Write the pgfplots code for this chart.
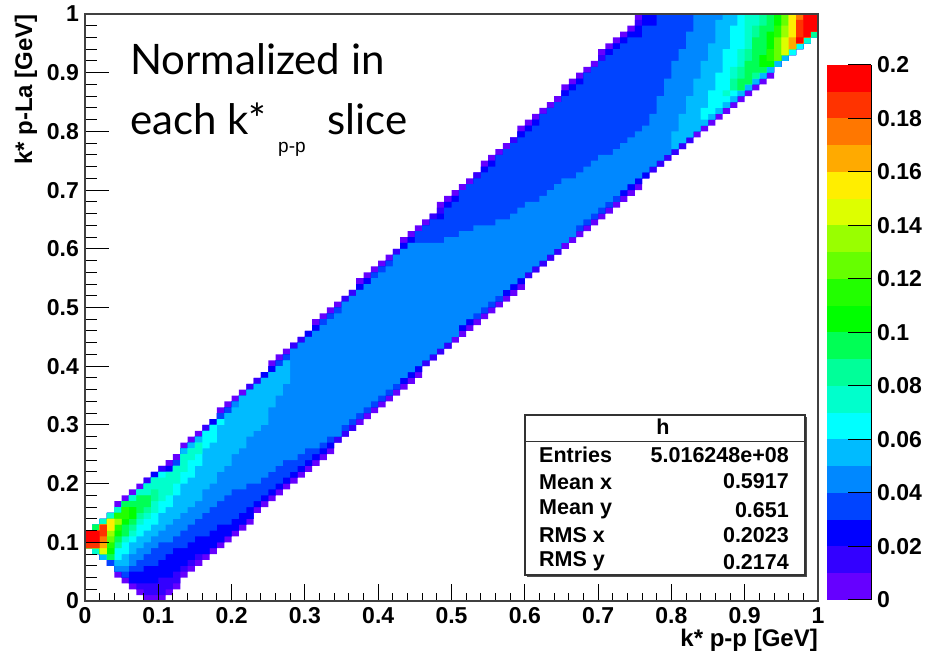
\documentclass[border=0pt]{standalone}
\usepackage{fontspec}
\setmainfont{Liberation Sans}
\newfontfamily\comic{Lato}
\usepackage{pgfplots}
\usepackage{pgfplotstable}
\pgfplotsset{compat=1.18}
\definecolor{c0}{HTML}{6600FF}\definecolor{c1}{HTML}{3300FF}\definecolor{c2}{HTML}{0000FF}\definecolor{c3}{HTML}{0044FF}
\definecolor{c4}{HTML}{0088FF}\definecolor{c5}{HTML}{00BBFF}\definecolor{c6}{HTML}{00FFFF}\definecolor{c7}{HTML}{00FFCC}
\definecolor{c8}{HTML}{00FF99}\definecolor{c9}{HTML}{00FF55}\definecolor{c10}{HTML}{00FF00}\definecolor{c11}{HTML}{22FF00}
\definecolor{c12}{HTML}{66FF00}\definecolor{c13}{HTML}{99FF00}\definecolor{c14}{HTML}{DDFF00}\definecolor{c15}{HTML}{FFEE00}
\definecolor{c16}{HTML}{FFAA00}\definecolor{c17}{HTML}{FF7700}\definecolor{c18}{HTML}{FF3300}\definecolor{c19}{HTML}{FF0000}
\pgfplotstableread{
x T0 T1 T2 T3 T4 B0 B1 B2 B3 B4
0.00 0.12 0.12 0.12 0.12 0.12 0.09 0.09 0.09 0.09 0.09
0.01 0.13 0.13 0.13 0.13 0.13 0.08 0.08 0.08 0.08 0.08
0.02 0.14 0.14 0.14 0.14 0.14 0.07 0.07 0.07 0.07 0.07
0.03 0.15 0.15 0.15 0.15 0.15 0.06 0.06 0.06 0.06 0.07
0.04 0.17 0.16 0.16 0.16 0.16 0.04 0.05 0.05 0.05 0.05
0.05 0.18 0.17 0.17 0.17 0.17 0.03 0.04 0.04 0.04 0.05
0.06 0.19 0.18 0.18 0.18 0.18 0.02 0.03 0.03 0.05 0.06
0.07 0.20 0.19 0.19 0.19 0.19 0.01 0.02 0.03 0.05 0.07
0.08 0.21 0.21 0.20 0.20 0.20 0.00 0.01 0.03 0.06 0.08
0.09 0.22 0.22 0.22 0.21 0.21 0.00 0.01 0.03 0.06 0.09
0.10 0.23 0.23 0.22 0.22 0.22 0.00 0.01 0.04 0.07 0.10
0.11 0.24 0.23 0.23 0.22 0.22 0.01 0.02 0.04 0.08 0.10
0.12 0.25 0.24 0.24 0.24 0.23 0.02 0.03 0.05 0.09 0.11
0.13 0.27 0.26 0.26 0.26 0.26 0.04 0.05 0.06 0.09 0.12
0.14 0.28 0.27 0.27 0.27 0.27 0.05 0.06 0.07 0.10 0.13
0.15 0.29 0.28 0.28 0.28 0.28 0.06 0.07 0.08 0.11 0.14
0.16 0.30 0.30 0.29 0.29 0.29 0.07 0.08 0.08 0.11 0.15
0.17 0.31 0.31 0.31 0.30 0.30 0.08 0.09 0.09 0.12 0.16
0.18 0.33 0.32 0.32 0.32 0.31 0.09 0.10 0.10 0.13 0.17
0.19 0.34 0.33 0.33 0.33 0.32 0.10 0.11 0.11 0.13 0.18
0.20 0.35 0.34 0.34 0.34 0.34 0.11 0.12 0.12 0.14 0.19
0.21 0.36 0.35 0.35 0.35 0.35 0.12 0.13 0.13 0.15 0.19
0.22 0.37 0.37 0.36 0.36 0.36 0.13 0.14 0.14 0.16 0.20
0.23 0.38 0.38 0.37 0.37 0.37 0.15 0.16 0.16 0.17 0.20
0.24 0.39 0.39 0.39 0.38 0.38 0.16 0.17 0.17 0.18 0.21
0.25 0.41 0.40 0.40 0.39 0.39 0.17 0.18 0.18 0.19 0.22
0.26 0.42 0.41 0.41 0.41 0.40 0.18 0.19 0.19 0.20 0.23
0.27 0.43 0.42 0.42 0.42 0.41 0.19 0.20 0.20 0.21 0.24
0.28 0.44 0.44 0.43 0.43 0.43 0.20 0.21 0.21 0.22 0.24
0.29 0.45 0.45 0.44 0.44 0.44 0.21 0.22 0.22 0.23 0.25
0.30 0.46 0.46 0.46 0.45 0.45 0.22 0.23 0.23 0.24 0.26
0.31 0.48 0.47 0.47 0.46 0.46 0.23 0.24 0.24 0.25 0.26
0.32 0.49 0.48 0.48 0.48 0.47 0.24 0.25 0.25 0.26 0.27
0.33 0.50 0.49 0.49 0.49 0.48 0.25 0.26 0.26 0.27 0.28
0.34 0.51 0.50 0.50 0.50 0.49 0.27 0.27 0.28 0.28 0.28
0.35 0.52 0.52 0.51 0.51 0.51 0.28 0.28 0.29 0.29 0.30
0.36 0.53 0.53 0.52 0.52 0.52 0.29 0.29 0.30 0.30 0.31
0.37 0.55 0.54 0.54 0.53 0.53 0.30 0.31 0.31 0.31 0.32
0.38 0.56 0.55 0.55 0.54 0.54 0.31 0.32 0.32 0.32 0.33
0.39 0.57 0.56 0.56 0.56 0.55 0.32 0.33 0.33 0.33 0.34
0.40 0.58 0.57 0.57 0.57 0.56 0.33 0.34 0.34 0.34 0.35
0.41 0.59 0.58 0.58 0.58 0.57 0.34 0.35 0.35 0.35 0.36
0.42 0.60 0.60 0.59 0.59 0.59 0.35 0.36 0.36 0.36 0.37
0.43 0.62 0.61 0.61 0.60 0.60 0.36 0.37 0.37 0.38 0.38
0.44 0.63 0.62 0.62 0.61 0.61 0.37 0.38 0.38 0.39 0.39
0.45 0.64 0.63 0.63 0.63 0.61 0.38 0.39 0.39 0.40 0.40
0.46 0.65 0.64 0.64 0.64 0.61 0.40 0.40 0.41 0.41 0.41
0.47 0.66 0.66 0.65 0.65 0.61 0.41 0.41 0.42 0.42 0.42
0.48 0.68 0.67 0.66 0.65 0.61 0.42 0.42 0.43 0.43 0.43
0.49 0.69 0.68 0.68 0.67 0.62 0.43 0.43 0.44 0.44 0.44
0.50 0.70 0.69 0.69 0.68 0.62 0.44 0.45 0.45 0.45 0.45
0.51 0.71 0.70 0.70 0.70 0.63 0.45 0.46 0.46 0.47 0.47
0.52 0.72 0.71 0.71 0.71 0.63 0.46 0.47 0.47 0.48 0.48
0.53 0.73 0.73 0.72 0.72 0.64 0.47 0.48 0.48 0.48 0.49
0.54 0.75 0.74 0.74 0.73 0.64 0.48 0.49 0.49 0.49 0.50
0.55 0.76 0.75 0.75 0.74 0.64 0.49 0.50 0.50 0.50 0.51
0.56 0.77 0.76 0.76 0.76 0.65 0.50 0.51 0.51 0.51 0.52
0.57 0.78 0.77 0.77 0.77 0.65 0.51 0.52 0.52 0.53 0.53
0.58 0.79 0.79 0.78 0.78 0.66 0.52 0.53 0.53 0.54 0.54
0.59 0.81 0.80 0.80 0.79 0.67 0.53 0.54 0.54 0.55 0.55
0.60 0.82 0.81 0.81 0.80 0.68 0.55 0.55 0.56 0.56 0.56
0.61 0.83 0.82 0.82 0.81 0.68 0.56 0.56 0.57 0.57 0.57
0.62 0.84 0.83 0.83 0.83 0.69 0.57 0.57 0.58 0.58 0.58
0.63 0.85 0.84 0.84 0.84 0.70 0.58 0.58 0.59 0.59 0.59
0.64 0.86 0.85 0.85 0.85 0.71 0.59 0.59 0.60 0.60 0.60
0.65 0.88 0.87 0.87 0.86 0.72 0.60 0.61 0.61 0.61 0.61
0.66 0.89 0.88 0.88 0.87 0.72 0.61 0.62 0.62 0.62 0.62
0.67 0.90 0.89 0.89 0.88 0.73 0.62 0.63 0.63 0.63 0.64
0.68 0.91 0.90 0.90 0.90 0.74 0.63 0.64 0.64 0.64 0.65
0.69 0.92 0.91 0.91 0.91 0.75 0.64 0.65 0.65 0.65 0.66
0.70 0.94 0.93 0.92 0.92 0.76 0.65 0.66 0.66 0.66 0.67
0.71 0.95 0.94 0.94 0.93 0.76 0.66 0.67 0.67 0.67 0.68
0.72 0.96 0.95 0.95 0.94 0.77 0.67 0.68 0.68 0.68 0.69
0.73 0.97 0.96 0.96 0.95 0.78 0.68 0.69 0.69 0.70 0.70
0.74 0.98 0.97 0.97 0.96 0.79 0.69 0.70 0.70 0.71 0.71
0.75 1.00 0.99 0.98 0.96 0.80 0.70 0.71 0.71 0.72 0.72
0.76 1.00 1.00 1.00 0.98 0.81 0.72 0.72 0.72 0.73 0.73
0.77 1.00 1.00 1.00 0.98 0.83 0.73 0.73 0.74 0.74 0.74
0.78 1.00 1.00 1.00 1.00 0.86 0.74 0.74 0.75 0.75 0.75
0.79 1.00 1.00 1.00 1.00 0.89 0.75 0.75 0.76 0.76 0.76
0.80 1.00 1.00 1.00 1.00 0.92 0.76 0.76 0.77 0.77 0.77
0.81 1.00 1.00 1.00 1.00 0.94 0.77 0.77 0.78 0.78 0.78
0.82 1.00 1.00 1.00 1.00 0.97 0.78 0.78 0.79 0.79 0.79
0.83 1.00 1.00 1.00 1.00 1.00 0.79 0.80 0.80 0.80 0.80
0.84 1.00 1.00 1.00 1.00 1.00 0.80 0.81 0.81 0.81 0.81
0.85 1.00 1.00 1.00 1.00 1.00 0.81 0.82 0.82 0.82 0.82
0.86 1.00 1.00 1.00 1.00 1.00 0.82 0.83 0.83 0.83 0.83
0.87 1.00 1.00 1.00 1.00 1.00 0.83 0.84 0.84 0.84 0.84
0.88 1.00 1.00 1.00 1.00 1.00 0.84 0.85 0.85 0.85 0.85
0.89 1.00 1.00 1.00 1.00 1.00 0.85 0.86 0.86 0.86 0.86
0.90 1.00 1.00 1.00 1.00 1.00 0.86 0.87 0.87 0.87 0.87
0.91 1.00 1.00 1.00 1.00 1.00 0.87 0.88 0.88 0.88 0.88
0.92 1.00 1.00 1.00 1.00 1.00 0.88 0.89 0.89 0.89 0.89
0.93 1.00 1.00 1.00 1.00 1.00 0.89 0.90 0.90 0.90 0.90
0.94 1.00 1.00 1.00 1.00 1.00 0.91 0.91 0.91 0.91 0.91
0.95 1.00 1.00 1.00 1.00 1.00 0.92 0.92 0.92 0.92 0.92
0.96 1.00 1.00 1.00 1.00 1.00 0.93 0.93 0.93 0.93 0.93
0.97 1.00 1.00 1.00 1.00 1.00 0.94 0.94 0.94 0.94 0.94
0.98 1.00 1.00 1.00 1.00 1.00 0.95 0.95 0.95 0.95 0.95
0.99 1.00 1.00 1.00 1.00 1.00 0.96 0.96 0.96 0.96 0.96
1.00 1.00 1.00 1.00 1.00 1.00 0.96 0.96 0.96 0.96 0.96
}\edges
% fill the bins of one colour level: table, upper-edge column, lower-edge column, colour
\newcommand{\polyfrom}[4]{%
 \pgfplotstablegetrowsof{#1}\pgfmathtruncatemacro{\nr}{\pgfplotsretval-2}%
 \gdef\ptsf{}\gdef\ptsb{}%
 \foreach \i in {0,...,\nr}{%
   \edef\j{\the\numexpr\i+1\relax}%
   \pgfplotstablegetelem{\i}{x}\of{#1}\let\xa\pgfplotsretval
   \pgfplotstablegetelem{\j}{x}\of{#1}\let\xb\pgfplotsretval
   \pgfplotstablegetelem{\i}{#2}\of{#1}\let\ya\pgfplotsretval
   \pgfplotstablegetelem{\i}{#3}\of{#1}\let\yb\pgfplotsretval
   \xdef\ptsf{\ptsf(\xa,\ya)(\xb,\ya)}%
   \xdef\ptsb{(\xb,\yb)(\xa,\yb)\ptsb}%
 }%
 \edef\tmp{\noexpand\addplot[fill=#4,draw=none,forget plot] coordinates {\ptsf\ptsb} --cycle;}\tmp
}
\newcommand{\mainband}[2]{\polyfrom{\edges}{T#1}{B#1}{#2}}
\newcommand{\band}[2]{\pgfplotstableread[row sep=\\]{x t b\\#2}\bt\polyfrom{\bt}{t}{b}{#1}}
\newcommand{\tickfont}{\fontsize{23pt}{23pt}\selectfont\bfseries}
\newcommand{\statfont}{\fontsize{21.5pt}{22pt}\selectfont\bfseries}
\begin{document}
\begin{tikzpicture}[x=1pt,y=1pt]
\path[use as bounding box] (0,0) rectangle (927,656);
\begin{axis}[at={(85pt,55pt)},anchor=south west,scale only axis,width=733pt,height=587pt,
  xmin=0,xmax=1,ymin=0,ymax=1,axis on top,
  xtick={0,0.1,0.2,0.3,0.4,0.5,0.6,0.7,0.8,0.9,1},xticklabels={0,0.1,0.2,0.3,0.4,0.5,0.6,0.7,0.8,0.9,1},
  ytick={0,0.1,0.2,0.3,0.4,0.5,0.6,0.7,0.8,0.9,1},yticklabels={0,0.1,0.2,0.3,0.4,0.5,0.6,0.7,0.8,0.9,1},
  minor x tick num=4,minor y tick num=4,tick align=inside,xtick pos=bottom,ytick pos=left,
  x tick style={/pgfplots/major tick length=17pt,/pgfplots/minor tick length=8pt},
  y tick style={/pgfplots/major tick length=24pt,/pgfplots/minor tick length=12pt},
  tick style={black,line width=1pt},
  ticklabel style={font=\tickfont,inner sep=0pt},
  xticklabel style={yshift=-6pt},yticklabel style={xshift=-6pt},
  axis line style={line width=1.2pt,black!75},
]
\mainband{0}{c0}
\mainband{1}{c1}
\mainband{2}{c2}
\mainband{3}{c3}
\mainband{4}{c4}
\band{c5}{0 .12 .09\\.01 .13 .08\\.02 .14 .07\\.03 .15 .07\\.04 .16 .06\\.05 .17 .06\\.06 .18 .08\\.07 .19 .09\\.08 .20 .10\\.09 .21 .11\\.10 .22 .12\\.11 .22 .13\\.12 .23 .14\\.13 .26 .15\\.14 .27 .16\\.15 .28 .17\\.16 .29 .19\\.17 .30 .20\\.18 .31 .22\\.19 .32 .23\\.20 .33 .25\\.21 .35 .26\\.22 .36 .28\\.23 .37 .29\\.24 .38 .30\\.25 .39 .33\\.26 .40 .35\\.27 .41 .37\\.28 .41 .37\\}
\band{c5}{.80 .80 .77\\.81 .83 .78\\.82 .86 .79\\.83 .89 .80\\.84 .92 .81\\.85 .95 .82\\.86 .99 .83\\.87 1 .84\\.88 1 .85\\.89 1 .86\\.90 1 .87\\.91 1 .88\\.92 1 .89\\.93 1 .90\\.94 1 .91\\.95 1 .92\\.96 1 .93\\.97 1 .94\\.98 1 .95\\.99 1 .96\\1 1 .96\\}
\band{c6}{0 .12 .09\\.01 .13 .08\\.02 .14 .08\\.03 .15 .07\\.04 .16 .07\\.05 .17 .08\\.06 .18 .10\\.07 .19 .11\\.08 .20 .12\\.09 .21 .13\\.10 .22 .15\\.11 .22 .16\\.12 .23 .18\\.13 .25 .20\\.14 .26 .21\\.15 .27 .23\\.16 .29 .26\\.17 .30 .27\\.18 .31 .30\\.19 .31 .30\\}
\band{c6}{.84 .84 .82\\.85 .87 .83\\.86 .90 .84\\.87 .94 .85\\.88 .98 .86\\.89 1 .87\\.90 1 .88\\.91 1 .89\\.92 1 .90\\.93 1 .91\\.94 1 .92\\.95 1 .93\\.96 1 .93\\.97 1 .94\\.98 1 .95\\.99 1 .96\\1 1 .96\\}
\band{c7}{0 .12 .09\\.01 .13 .08\\.02 .14 .08\\.03 .15 .07\\.04 .16 .09\\.05 .17 .10\\.06 .18 .11\\.07 .19 .13\\.08 .20 .14\\.09 .21 .15\\.10 .21 .17\\.11 .22 .18\\.12 .23 .20\\.13 .25 .22\\.14 .26 .24\\.15 .27 .25\\.16 .27 .25\\}
\band{c7}{.87 .87 .86\\.88 .91 .87\\.89 .94 .87\\.90 1 .88\\.91 1 .89\\.92 1 .90\\.93 1 .91\\.94 1 .92\\.95 1 .93\\.96 1 .94\\.97 1 .95\\.98 1 .95\\.99 1 .96\\1 1 .96\\}
\band{c8}{0 .12 .09\\.01 .13 .09\\.02 .13 .08\\.03 .14 .07\\.04 .15 .09\\.05 .17 .11\\.06 .17 .12\\.07 .18 .14\\.08 .18 .15\\.09 .19 .17\\.10 .19 .17\\}
\band{c8}{.88 .89 .87\\.89 .91 .87\\.90 .94 .88\\.91 .98 .89\\.92 1 .90\\.93 1 .91\\.94 1 .92\\.95 1 .93\\.96 1 .94\\.97 1 .95\\.98 1 .96\\.99 1 .96\\1 1 .96\\}
\band{c9}{0 .12 .09\\.01 .13 .09\\.02 .13 .08\\.03 .14 .07\\.04 .15 .10\\.05 .17 .11\\.06 .17 .13\\.07 .18 .15\\.08 .18 .16\\.09 .18 .16\\}
\band{c9}{.89 .89 .87\\.90 .92 .88\\.91 .96 .90\\.92 .98 .90\\.93 1 .91\\.94 1 .92\\.95 1 .93\\.96 1 .94\\.97 1 .95\\.98 1 .96\\.99 1 .97\\1 1 .97\\}
\band{c10}{0 .12 .09\\.01 .12 .09\\.02 .13 .08\\.03 .14 .08\\.04 .15 .11\\.05 .16 .13\\.06 .16 .14\\.07 .16 .14\\}
\band{c10}{.92 .93 .91\\.93 .97 .91\\.94 1 .92\\.95 1 .93\\.96 1 .94\\.97 1 .95\\.98 1 .96\\.99 1 .97\\1 1 .97\\}
\band{c11}{0 .12 .09\\.01 .12 .09\\.02 .13 .08\\.03 .14 .09\\.04 .15 .12\\.05 .16 .14\\.06 .16 .14\\}
\band{c11}{.93 .94 .92\\.94 .98 .92\\.95 1 .93\\.96 1 .94\\.97 1 .95\\.98 1 .96\\.99 1 .97\\1 1 .97\\}
\band{c12}{0 .12 .09\\.01 .12 .09\\.02 .13 .08\\.03 .14 .10\\.04 .14 .13\\.05 .14 .13\\}
\band{c12}{.94 .96 .92\\.95 1 .93\\.96 1 .94\\.97 1 .95\\.98 1 .96\\.99 1 .97\\1 1 .97\\}
\band{c13}{0 .12 .09\\.01 .12 .09\\.02 .13 .08\\.03 .14 .11\\.04 .14 .13\\.05 .14 .13\\}
\band{c13}{.95 .98 .93\\.96 1 .94\\.97 1 .95\\.98 1 .96\\.99 1 .97\\1 1 .97\\}
\band{c14}{0 .12 .09\\.01 .12 .09\\.02 .13 .08\\.03 .14 .12\\.04 .14 .12\\}
\band{c14}{.95 .96 .93\\.96 1 .94\\.97 1 .95\\.98 1 .96\\.99 1 .97\\1 1 .97\\}
\band{c15}{0 .12 .09\\.01 .12 .09\\.02 .13 .09\\.03 .14 .12\\.04 .14 .12\\}
\band{c15}{.96 1 .94\\.97 1 .95\\.98 1 .96\\.99 1 .97\\1 1 .97\\}
\band{c16}{0 .12 .09\\.01 .12 .09\\.02 .13 .09\\.03 .13 .09\\}
\band{c16}{.96 .96 .94\\.97 1 .95\\.98 1 .96\\.99 1 .97\\1 1 .97\\}
\band{c17}{0 .12 .09\\.01 .12 .09\\.02 .13 .10\\.03 .13 .10\\}
\band{c17}{.97 1 .95\\.98 1 .96\\.99 1 .97\\1 1 .97\\}
\band{c18}{0 .12 .09\\.01 .12 .09\\.02 .13 .11\\.03 .13 .11\\}
\band{c18}{.97 .99 .95\\.98 1 .96\\.99 1 .97\\1 1 .97\\}
\band{c19}{0 .12 .10\\.01 .12 .10\\.02 .12 .10\\}
\band{c19}{.97 .96 .95\\.98 1 .96\\.99 1 .97\\1 1 .97\\}
\end{axis}
\begin{axis}[at={(827pt,56pt)},anchor=south west,scale only axis,width=44pt,height=535pt,
  xmin=0,xmax=1,ymin=0,ymax=0.2,axis x line=none,axis y line*=right,tick align=inside,axis on top,
  ytick={0,0.02,0.04,0.06,0.08,0.1,0.12,0.14,0.16,0.18,0.2},
  yticklabels={0,0.02,0.04,0.06,0.08,0.1,0.12,0.14,0.16,0.18,0.2},
  major tick length=23pt,tick style={black,line width=1pt},
  axis line style={line width=1pt,black,-},
  ticklabel style={font=\tickfont,inner sep=0pt},yticklabel style={xshift=6pt},
]
\addplot[fill=c0,draw=none] coordinates {(0,0)(1,0)(1,0.01)(0,0.01)} --cycle;
\addplot[fill=c1,draw=none] coordinates {(0,0.01)(1,0.01)(1,0.02)(0,0.02)} --cycle;
\addplot[fill=c2,draw=none] coordinates {(0,0.02)(1,0.02)(1,0.03)(0,0.03)} --cycle;
\addplot[fill=c3,draw=none] coordinates {(0,0.03)(1,0.03)(1,0.04)(0,0.04)} --cycle;
\addplot[fill=c4,draw=none] coordinates {(0,0.04)(1,0.04)(1,0.05)(0,0.05)} --cycle;
\addplot[fill=c5,draw=none] coordinates {(0,0.05)(1,0.05)(1,0.06)(0,0.06)} --cycle;
\addplot[fill=c6,draw=none] coordinates {(0,0.06)(1,0.06)(1,0.07)(0,0.07)} --cycle;
\addplot[fill=c7,draw=none] coordinates {(0,0.07)(1,0.07)(1,0.08)(0,0.08)} --cycle;
\addplot[fill=c8,draw=none] coordinates {(0,0.08)(1,0.08)(1,0.09)(0,0.09)} --cycle;
\addplot[fill=c9,draw=none] coordinates {(0,0.09)(1,0.09)(1,0.10)(0,0.10)} --cycle;
\addplot[fill=c10,draw=none] coordinates {(0,0.10)(1,0.10)(1,0.11)(0,0.11)} --cycle;
\addplot[fill=c11,draw=none] coordinates {(0,0.11)(1,0.11)(1,0.12)(0,0.12)} --cycle;
\addplot[fill=c12,draw=none] coordinates {(0,0.12)(1,0.12)(1,0.13)(0,0.13)} --cycle;
\addplot[fill=c13,draw=none] coordinates {(0,0.13)(1,0.13)(1,0.14)(0,0.14)} --cycle;
\addplot[fill=c14,draw=none] coordinates {(0,0.14)(1,0.14)(1,0.15)(0,0.15)} --cycle;
\addplot[fill=c15,draw=none] coordinates {(0,0.15)(1,0.15)(1,0.16)(0,0.16)} --cycle;
\addplot[fill=c16,draw=none] coordinates {(0,0.16)(1,0.16)(1,0.17)(0,0.17)} --cycle;
\addplot[fill=c17,draw=none] coordinates {(0,0.17)(1,0.17)(1,0.18)(0,0.18)} --cycle;
\addplot[fill=c18,draw=none] coordinates {(0,0.18)(1,0.18)(1,0.19)(0,0.19)} --cycle;
\addplot[fill=c19,draw=none] coordinates {(0,0.19)(1,0.19)(1,0.20)(0,0.20)} --cycle;
\end{axis}
% stats box
\fill[black!70] (527,79) rectangle (807,239);
\draw[black!80,line width=1.2pt,fill=white] (525,81) rectangle (805,241);
\draw[black!80,line width=1.2pt] (525,214.5) -- (805,214.5);
\node[font=\statfont,anchor=base] at (663,221) {h};
\node[font=\statfont,anchor=base west,inner sep=0] at (539,193) {Entries};
\node[font=\statfont,anchor=base west,inner sep=0] at (539,166) {Mean x};
\node[font=\statfont,anchor=base west,inner sep=0] at (539,141) {Mean y};
\node[font=\statfont,anchor=base west,inner sep=0] at (539,113) {RMS x};
\node[font=\statfont,anchor=base west,inner sep=0] at (539,89) {RMS y};
\node[font=\statfont,anchor=base east,inner sep=0] at (789,193) {5.016248e+08};
\node[font=\statfont,anchor=base east,inner sep=0] at (789,167) {0.5917};
\node[font=\statfont,anchor=base east,inner sep=0] at (789,138) {0.651};
\node[font=\statfont,anchor=base east,inner sep=0] at (789,113) {0.2023};
\node[font=\statfont,anchor=base east,inner sep=0] at (789,86) {0.2174};
% titles
\node[font=\fontsize{24pt}{24pt}\selectfont\bfseries,anchor=base east,inner sep=0] at (818,9) {k* p-p [GeV]};
\node[font=\fontsize{24pt}{24pt}\selectfont\bfseries,anchor=base east,inner sep=0,rotate=90] at (32,642) {k* p-La [GeV]};
% annotation
\node[font=\comic\fontsize{42pt}{42pt}\selectfont,anchor=base west,inner sep=0] at (130,581) {Normalized in};
\node[font=\comic\fontsize{42pt}{42pt}\selectfont,anchor=base west,inner sep=0] at (130,521) {each k*};
\node[font=\fontsize{19pt}{19pt}\selectfont,anchor=base west,inner sep=0] at (278,503) {p-p};
\node[font=\comic\fontsize{42pt}{42pt}\selectfont,anchor=base west,inner sep=0] at (327,521) {slice};
\end{tikzpicture}
\end{document}
